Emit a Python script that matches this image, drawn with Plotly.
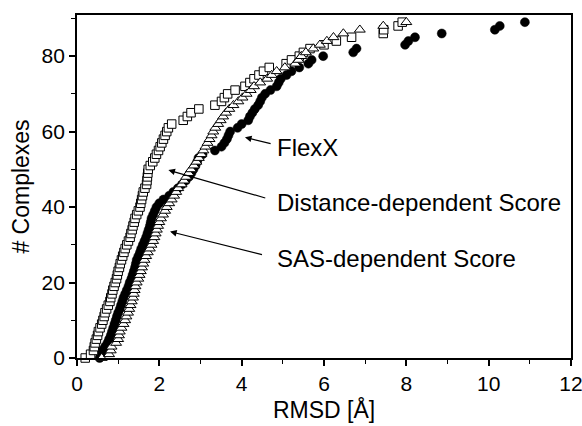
import plotly.graph_objects as go

# Cumulative number of complexes (y) reaching an RMSD below x
dist_rmsd = [0.20, 0.33, 0.40, 0.42, 0.44, 0.47, 0.50, 0.52, 0.56, 0.60,
             0.63, 0.66, 0.68, 0.72, 0.76, 0.80, 0.82, 0.85, 0.87, 0.90,
             0.93, 0.96, 0.98, 1.00, 1.03, 1.05, 1.08, 1.11, 1.14, 1.17,
             1.21, 1.25, 1.29, 1.31, 1.34, 1.36, 1.39, 1.41, 1.45, 1.49,
             1.53, 1.55, 1.57, 1.59, 1.61, 1.65, 1.69, 1.70, 1.71, 1.72,
             1.73, 1.78, 1.84, 1.89, 1.93, 1.98, 2.02, 2.06, 2.10, 2.14,
             2.18, 2.22, 2.30, 2.58, 2.68, 2.77, 2.96, 3.35, 3.51, 3.58,
             3.66, 3.84, 4.08, 4.20, 4.30, 4.42, 4.53, 4.67, 5.08, 5.21,
             5.40, 5.50, 5.66, 6.00, 6.30, 6.67, 7.44, 7.45, 7.80, 7.90]

sas_rmsd = [0.60, 0.78, 0.82, 0.84, 0.95, 1.00, 1.02, 1.04, 1.08, 1.13,
            1.17, 1.20, 1.24, 1.27, 1.30, 1.33, 1.36, 1.38, 1.40, 1.42,
            1.45, 1.49, 1.52, 1.55, 1.58, 1.61, 1.64, 1.68, 1.72, 1.77,
            1.81, 1.85, 1.88, 1.91, 1.94, 1.97, 2.00, 2.04, 2.09, 2.14,
            2.18, 2.24, 2.30, 2.36, 2.41, 2.46, 2.54, 2.60, 2.65, 2.71,
            2.77, 2.84, 2.90, 2.96, 3.02, 3.07, 3.12, 3.17, 3.22, 3.27,
            3.31, 3.36, 3.43, 3.49, 3.55, 3.62, 3.70, 3.80, 3.92, 4.02,
            4.12, 4.22, 4.30, 4.45, 4.62, 4.73, 4.85, 5.05, 5.30, 5.38,
            5.45, 5.56, 5.74, 5.90, 6.07, 6.23, 6.47, 6.87, 7.44, 8.00]

flexx_rmsd = [0.55, 0.58, 0.62, 0.68, 0.74, 0.78, 0.82, 0.85, 0.88, 0.91,
              0.94, 0.97, 1.00, 1.04, 1.07, 1.10, 1.13, 1.17, 1.21, 1.25,
              1.28, 1.32, 1.35, 1.38, 1.41, 1.43, 1.45, 1.49, 1.53, 1.56,
              1.60, 1.64, 1.68, 1.71, 1.74, 1.77, 1.79, 1.81, 1.85, 1.89,
              1.93, 2.00, 2.10, 2.24, 2.34, 2.45, 2.55, 2.64, 2.72, 2.78,
              2.83, 2.88, 2.92, 2.95, 3.05, 3.35, 3.51, 3.58, 3.64, 3.68,
              3.72, 3.90, 4.00, 4.16, 4.20, 4.26, 4.32, 4.40, 4.45, 4.49,
              4.57, 4.70, 4.85, 4.90, 4.95, 5.09, 5.21, 5.40, 5.62, 5.70,
              5.98, 6.71, 6.79, 7.97, 8.05, 8.21, 8.86, 10.15, 10.27, 10.88]

x_ticks = [0, 2, 4, 6, 8, 10, 12]
y_ticks = [0, 20, 40, 60, 80]

def counts(vals):
    return list(range(len(vals)))

FONT = "Liberation Sans, Arial, Helvetica, sans-serif"

fig = go.Figure()
fig.add_trace(go.Scatter(
    x=flexx_rmsd, y=counts(flexx_rmsd), mode="markers", name="FlexX",
    marker=dict(symbol="circle", size=9, color="black",
                line=dict(color="black", width=0.5)),
    cliponaxis=False))
fig.add_trace(go.Scatter(
    x=dist_rmsd, y=counts(dist_rmsd), mode="markers", name="Distance-dependent Score",
    marker=dict(symbol="square", size=8.5, color="white",
                line=dict(color="black", width=1)),
    cliponaxis=False))
fig.add_trace(go.Scatter(
    x=sas_rmsd, y=counts(sas_rmsd), mode="markers", name="SAS-dependent Score",
    marker=dict(symbol="triangle-up", size=9.5, color="white",
                line=dict(color="black", width=1)),
    cliponaxis=False))

labels = [
    ("FlexX", 4.81, 55.9, 4.08, 58.5, 4.74, 56.7),
    ("Distance-dependent Score", 4.81, 41.3, 2.22, 49.8, 4.61, 42.3),
    ("SAS-dependent Score", 4.81, 26.5, 2.26, 33.5, 4.53, 27.3),
]
for text, tx, ty, hx, hy, ax, ay in labels:
    fig.add_annotation(x=tx, y=ty, text=text, showarrow=False, xanchor="left",
                       yanchor="middle", font=dict(family=FONT, size=24, color="black"))
    fig.add_annotation(x=hx, y=hy, ax=ax, ay=ay, axref="x", ayref="y", text="",
                       showarrow=True, arrowhead=2, arrowsize=1.1, arrowwidth=1.2,
                       arrowcolor="black", standoff=0)

axis_common = dict(showline=True, linecolor="black", linewidth=1.7, mirror=True,
                   showgrid=False, zeroline=False, ticks="outside", ticklen=6,
                   tickwidth=1.5, tickcolor="black", automargin=False,
                   ticklabeloverflow="allow",
                   tickfont=dict(family=FONT, size=21, color="black"))

fig.update_xaxes(range=[0, 12], tickvals=x_ticks,
                 minor=dict(dtick=1, ticks="outside", ticklen=4, tickwidth=1.2, tickcolor="black"),
                 title=dict(text="RMSD [Å]", font=dict(family=FONT, size=23, color="black"), standoff=8),
                 **axis_common)
fig.update_yaxes(range=[0, 90.9], tickvals=y_ticks,
                 minor=dict(dtick=10, ticks="outside", ticklen=4, tickwidth=1.2, tickcolor="black"),
                 title=dict(text="# Complexes", font=dict(family=FONT, size=23, color="black"), standoff=6),
                 **axis_common)

fig.update_layout(width=582, height=426, margin=dict(l=77, r=11, t=15, b=68),
                  plot_bgcolor="white", paper_bgcolor="white", showlegend=False,
                  font=dict(family=FONT, color="black"))

fig.write_html("out.html")
